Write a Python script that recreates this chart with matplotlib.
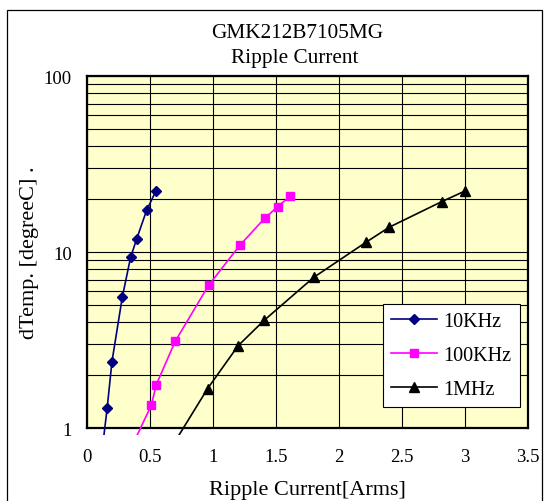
import matplotlib
matplotlib.use('Agg')
import matplotlib.pyplot as plt
from matplotlib.patches import Rectangle
from matplotlib.ticker import FixedLocator, NullFormatter, LogLocator

plt.rcParams['font.family'] = ['Liberation Serif', 'DejaVu Serif']

# ripple current [Arms] vs temperature rise [degC]
# last point of each series is below 1 degC (only the line stub shows)
i_10k = [0.548, 0.473, 0.394, 0.346, 0.280, 0.198, 0.160, 0.12]
t_10k = [22.4, 17.3, 11.9, 9.37, 5.55, 2.39, 1.30, 0.75]
i_100k = [1.61, 1.515, 1.41, 1.213, 0.965, 0.70, 0.55, 0.51, 0.36]
t_100k = [20.8, 18.2, 15.6, 10.96, 6.49, 3.12, 1.77, 1.35, 0.8]
i_1m = [3.0, 2.815, 2.40, 2.214, 1.80, 1.405, 1.20, 0.957, 0.68]
t_1m = [22.3, 19.4, 13.9, 11.4, 7.21, 4.1, 2.95, 1.68, 0.8]

series = [
    ('10KHz', i_10k, t_10k, '#000080', 'D', 5.5),
    ('100KHz', i_100k, t_100k, '#FF00FF', 's', 6.3),
    ('1MHz', i_1m, t_1m, '#000000', '^', 7.5),
]

fig = plt.figure(figsize=(5.55, 5.02), dpi=100)
ax = fig.add_axes([87/555, 1-429.3/502, 441/555, 352/502])
ax.set_facecolor('#FFFFCC')

# lines stick out a little below the plot area, like the original
clip = Rectangle((0, -0.018), 1, 1.018, transform=ax.transAxes, visible=False)
ax.add_patch(clip)

handles = []
for name, x, y, col, mk, ms in series:
    ln, = ax.plot(x, y, color=col, lw=1.2, zorder=3)
    ln.set_clip_path(clip)
    ax.plot(x, y, ls='none', marker=mk, ms=ms, color=col, zorder=4)
    h, = ax.plot([], [], color=col, lw=1.2, marker=mk, ms=ms)
    handles.append(h)

ax.set_yscale('log')
ax.set_xlim(0, 3.5)
ax.set_ylim(1, 100)
ax.xaxis.set_major_locator(FixedLocator([0, 0.5, 1, 1.5, 2, 2.5, 3, 3.5]))
ax.set_xticklabels(['0', '0.5', '1', '1.5', '2', '2.5', '3', '3.5'])
ax.yaxis.set_major_locator(FixedLocator([1, 10, 100]))
ax.set_yticklabels(['1', '10', '100'])
ax.yaxis.set_minor_locator(LogLocator(base=10, subs=range(2, 10)))
ax.yaxis.set_minor_formatter(NullFormatter())
ax.tick_params(which='both', length=0, labelsize=13.5)
ax.tick_params(axis='x', pad=14)
ax.tick_params(axis='y', pad=11)
ax.grid(True, which='both', color='#000000', lw=0.8, zorder=1)
ax.set_axisbelow(True)
for s in ax.spines.values():
    s.set_linewidth(1.6)

leg = ax.legend(handles, [s[0] for s in series], loc='lower left',
                bbox_to_anchor=(0.671, 0.06), fontsize=14.5, frameon=True,
                fancybox=False, framealpha=1, edgecolor='#000000',
                handlelength=2.3, handletextpad=0.3, labelspacing=0.75,
                borderpad=0.4, borderaxespad=0)
leg.get_frame().set_linewidth(0.8)

fig.text(297/555, 1-37.5/502, 'GMK212B7105MG', ha='center', va='baseline', fontsize=15.3)
fig.text(295/555, 1-63.5/502, 'Ripple Current', ha='center', va='baseline', fontsize=15.3)
fig.text(307/555, 1-495/502, 'Ripple Current[Arms]', ha='center', va='baseline', fontsize=16)
fig.text(30/555, 1-253/502, 'dTemp. [degreeC] .', ha='center', va='center',
         rotation=90, fontsize=16)

fig.patches.append(Rectangle((7/555, -0.05), 535/555, 1.05-10.5/502,
                             transform=fig.transFigure, fill=False,
                             edgecolor='#000000', lw=0.9))

fig.savefig('out.png', dpi=100)
